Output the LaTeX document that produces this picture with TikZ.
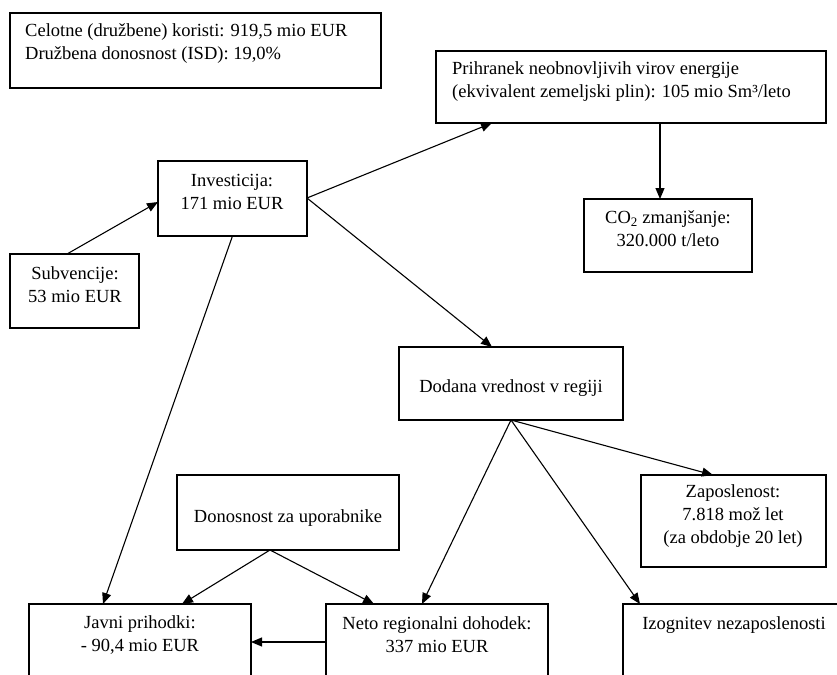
\documentclass[tikz,border=0pt]{standalone}
\usepackage{fontspec}
\setmainfont{Liberation Serif}
\usetikzlibrary{arrows.meta,calc}
\newcommand\mybox[5]{\node[box,minimum width={#4-#2},minimum height={#5-#3}] (#1) at ({(#2+#4)/2},{(#3+#5)/2}) {};}
\begin{document}
\begin{tikzpicture}[x=1pt,y=-1pt,
  box/.style={draw,line width=1.1pt,inner sep=0pt,outer sep=0pt},
  txt/.style={inner sep=0pt,font=\fontsize{18.5}{23}\selectfont,align=center},
  arr/.style={line width=1.1pt,-{Triangle[length=11pt,width=9pt]}}]
\useasboundingbox (0,0) rectangle (837,674);
\clip (0,0) rectangle (837,674);
\fill[white] (0,0) rectangle (837,674);
% boxes
\mybox{tot}{10}{13}{381}{88}
\mybox{pri}{436}{51}{826}{123}
\mybox{co2}{584}{199}{752}{272}
\mybox{inv}{158}{161}{307}{236}
\mybox{sub}{10}{254}{139}{328}
\mybox{dod}{399}{347}{623}{420}
\mybox{don}{177}{475}{399}{550}
\mybox{zap}{641}{475}{826}{567}
\mybox{jav}{29}{604}{251}{700}
\mybox{net}{326}{604}{548}{700}
\mybox{izo}{623}{604}{845}{700}
% texts
\node[txt,align=left,anchor=west] (tot-t) at (25,44) {Celotne (družbene) koristi: 919,5 mio EUR\\Družbena donosnost (ISD): 19,0\%};
\node[txt,align=left,anchor=west] (pri-t) at (452,82) {Prihranek neobnovljivih virov energije\\(ekvivalent zemeljski plin): 105 mio Sm³/leto};
\node[txt] (co2-t) at (668,229) {CO\textsubscript{2} zmanjšanje:\\320.000 t/leto};
\node[txt] (inv-t) at (232,192) {Investicija:\\171 mio EUR};
\node[txt] (sub-t) at (75,285) {Subvencije:\\53 mio EUR};
\node[txt] (dod-t) at (511,388) {Dodana vrednost v regiji};
\node[txt] (don-t) at (288,518) {Donosnost za uporabnike};
\node[txt] (zap-t) at (733,516) {Zaposlenost:\\7.818 mož let\\(za obdobje 20 let)};
\node[txt] (jav-t) at (140,635) {Javni prihodki:\\- 90,4 mio EUR};
\node[txt] (net-t) at (437,635) {Neto regionalni dohodek:\\337 mio EUR};
\node[txt] (izo-t) at (734,625) {Izognitev nezaposlenosti};
% connectors
\draw[arr] ($(sub.north west)+(57,0)$) -- ($(inv.north west)+(0,41)$);
\draw[arr] ($(inv.north east)+(0,37)$) -- ($(pri.south west)+(56,0)$);
\draw[arr] ($(inv.north east)+(0,37)$) -- ($(dod.north west)+(93,0)$);
\draw[arr] ($(pri.south west)+(224,0)$) -- ($(co2.north west)+(76,0)$);
\draw[arr] (inv.south) -- ($(jav.north west)+(74,0)$);
\draw[arr] ($(don.south west)+(93,0)$) -- ($(jav.north west)+(153,0)$);
\draw[arr] ($(don.south west)+(93,0)$) -- ($(net.north west)+(48,0)$);
\draw[arr] (dod.south) -- ($(net.north west)+(96,0)$);
\draw[arr] (dod.south) -- ($(izo.north west)+(17,0)$);
\draw[arr] (dod.south) -- ($(zap.north west)+(72,0)$);
\draw[arr] ($(net.north west)+(0,38)$) -- ($(jav.north east)+(0,38)$);
\end{tikzpicture}
\end{document}
